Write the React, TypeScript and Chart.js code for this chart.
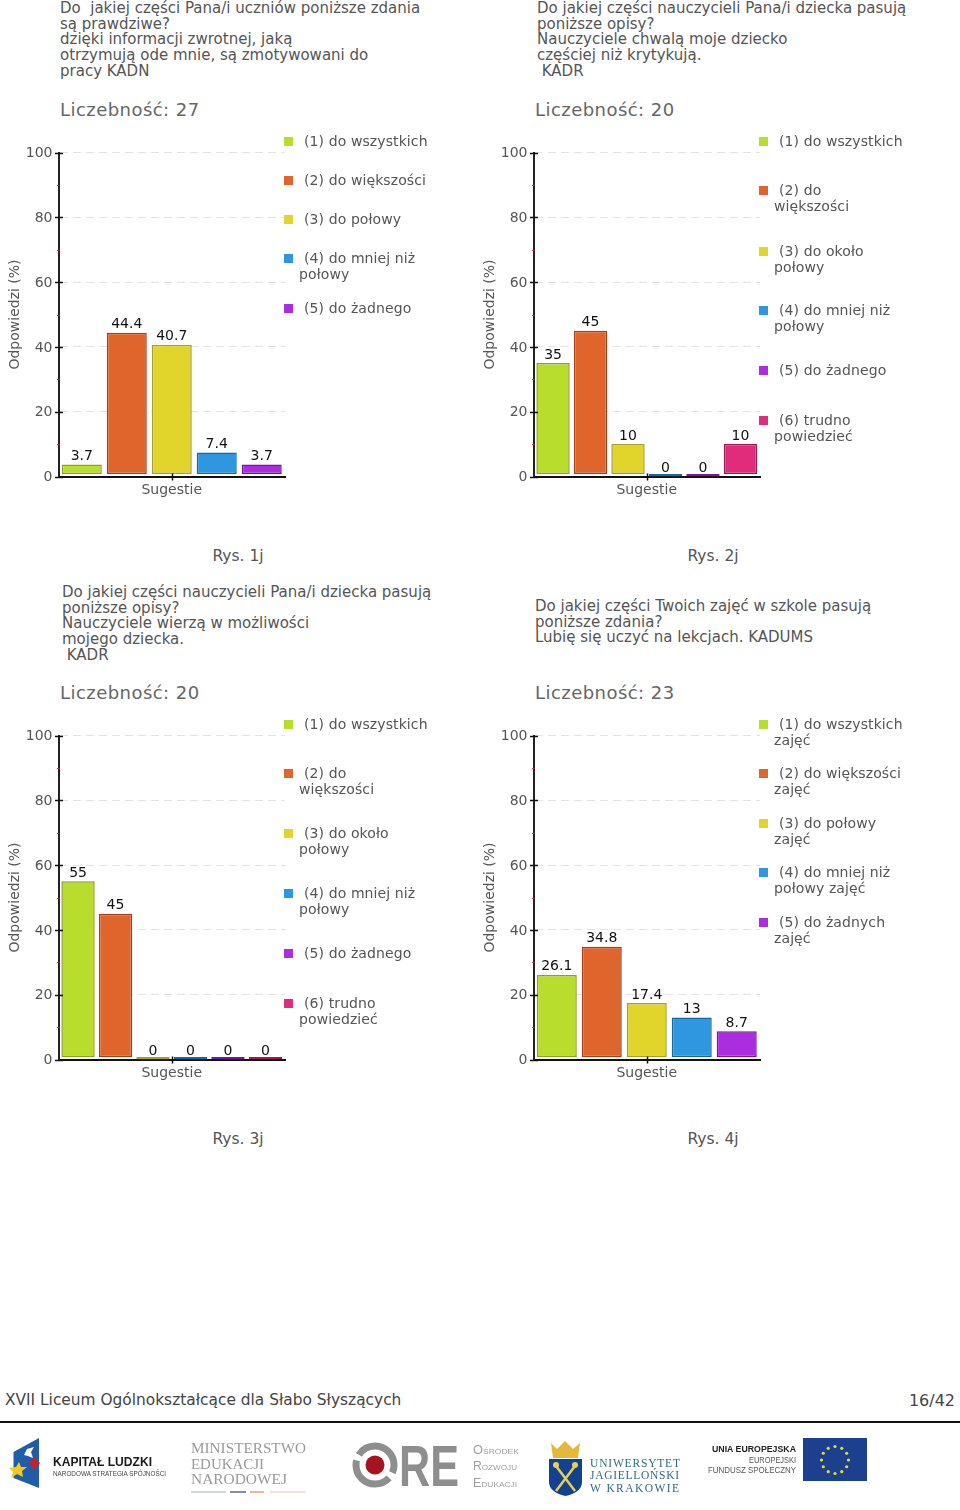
import React, { useEffect, useRef } from "react";
import { Chart, registerables } from "chart.js";

Chart.register(...registerables);

const FONT = '"DejaVu Sans", sans-serif';

const category = ["Sugestie"];
const yAxisTitle = "Odpowiedzi (%)";
const values1 = [3.7, 44.4, 40.7, 7.4, 3.7];
const values2 = [35, 45, 10, 0, 0, 10];
const values3 = [55, 45, 0, 0, 0, 0];
const values4 = [26.1, 34.8, 17.4, 13, 8.7];

const titles1 = ["Do  jakiej części Pana/i uczniów poniższe zdania", "są prawdziwe?", "dzięki informacji zwrotnej, jaką", "otrzymują ode mnie, są zmotywowani do", "pracy KADN"];
const titles2 = ["Do jakiej części nauczycieli Pana/i dziecka pasują", "poniższe opisy?", "Nauczyciele chwalą moje dziecko", "częściej niż krytykują.", " KADR"];
const titles3 = ["Do jakiej części nauczycieli Pana/i dziecka pasują", "poniższe opisy?", "Nauczyciele wierzą w możliwości", "mojego dziecka.", " KADR"];
const titles4 = ["Do jakiej części Twoich zajęć w szkole pasują", "poniższe zdania?", "Lubię się uczyć na lekcjach. KADUMS"];

const counts = ["Liczebność: 27", "Liczebność: 20", "Liczebność: 20", "Liczebność: 23"];
const captions = ["Rys. 1j", "Rys. 2j", "Rys. 3j", "Rys. 4j"];

const legend1 = [["(1) do wszystkich"], ["(2) do większości"], ["(3) do połowy"], ["(4) do mniej niż", "połowy"], ["(5) do żadnego"]];
const legend2 = [["(1) do wszystkich"], ["(2) do", "większości"], ["(3) do około", "połowy"], ["(4) do mniej niż", "połowy"], ["(5) do żadnego"], ["(6) trudno", "powiedzieć"]];
const legend4 = [["(1) do wszystkich", "zajęć"], ["(2) do większości", "zajęć"], ["(3) do połowy", "zajęć"], ["(4) do mniej niż", "połowy zajęć"], ["(5) do żadnych", "zajęć"]];

const fills = ["#b9dd2c", "#e0652d", "#e1d52c", "#2f97df", "#ac2ce0", "#e02c7a"];
const edges = ["#8f9f2c", "#a5401a", "#a89e2a", "#17689f", "#74179f", "#9f1a55"];

const panels = [
  { values: values1, titles: titles1, legend: legend1, x: 0, y: 0, titleX: 60, titleY: 1, legendY: [141, 180, 219, 258, 308] },
  { values: values2, titles: titles2, legend: legend2, x: 475, y: 0, titleX: 62, titleY: 1, legendY: [141, 190, 251, 310, 370, 420] },
  { values: values3, titles: titles3, legend: legend2, x: 0, y: 583, titleX: 62, titleY: 2, legendY: [141, 190, 250, 310, 370, 420] },
  { values: values4, titles: titles4, legend: legend4, x: 475, y: 583, titleX: 60, titleY: 16, legendY: [141, 190, 240, 289, 339] },
];

const minorTicksAndLabels = {
  id: "minorTicksAndLabels",
  afterDatasetsDraw(chart: any) {
    const { ctx, scales } = chart;
    const y = scales.y;
    const x = scales.x;
    const axisX = chart.chartArea.left;
    ctx.save();
    y.ticks.forEach((t: any) => {
      const py = Math.round(y.getPixelForValue(t.value)) + 0.5;
      const major = t.value % 20 === 0;
      ctx.strokeStyle = major ? "#111" : "#c8323c";
      ctx.lineWidth = major ? 1.5 : 1;
      ctx.beginPath();
      ctx.moveTo(axisX - (major ? 3.5 : 1.5), py);
      ctx.lineTo(axisX + (major ? 4.5 : 1), py);
      ctx.stroke();
    });
    const tx = Math.round(x.getPixelForTick(0)) + 0.5;
    ctx.strokeStyle = "#111";
    ctx.lineWidth = 1.5;
    ctx.beginPath();
    ctx.moveTo(tx, chart.chartArea.bottom - 3);
    ctx.lineTo(tx, chart.chartArea.bottom + 4);
    ctx.stroke();
    ctx.fillStyle = "#111";
    ctx.font = `14px ${FONT}`;
    ctx.textAlign = "center";
    ctx.textBaseline = "alphabetic";
    chart.data.datasets.forEach((ds: any, i: number) => {
      const el = chart.getDatasetMeta(i).data[0];
      ctx.fillText(String(ds.data[0]), el.x, y.getPixelForValue(ds.data[0]) - 4.5);
    });
    ctx.restore();
  },
};

function Panel({ values }: { values: number[] }) {
  const ref = useRef<HTMLCanvasElement>(null);
  useEffect(() => {
    const chart = new Chart(ref.current!, {
      type: "bar",
      data: {
        labels: category,
        datasets: values.map((v, i) => ({
          label: String(i + 1),
          data: [v],
          base: 0.8,
          backgroundColor: fills[i],
          borderColor: edges[i],
          borderWidth: 1.5,
          borderSkipped: false,
          barPercentage: 0.89,
          categoryPercentage: 0.993,
        })),
      },
      plugins: [minorTicksAndLabels],
      options: {
        animation: false,
        responsive: false,
        layout: { padding: { top: 22.5, right: 5, left: 0, bottom: 0 } },
        plugins: { legend: { display: false }, tooltip: { enabled: false }, title: { display: false } },
        scales: {
          x: {
            z: 1,
            border: { color: "#111", width: 2 },
            grid: { offset: false, drawOnChartArea: false, drawTicks: false },
            ticks: { color: "#555", font: { family: FONT, size: 14 }, padding: 5 },
            afterFit: (s: any) => { s.height = 28.5; },
          },
          y: {
            min: 0,
            max: 100,
            border: { color: "#222", width: 2, dash: [8, 5] },
            grid: {
              drawTicks: false,
              color: (c: any) => (c.tick && c.tick.value % 20 === 0 && c.tick.value > 0 ? "#e4e4e4" : "rgba(0,0,0,0)"),
            },
            title: { display: true, text: yAxisTitle, color: "#555", font: { family: FONT, size: 14 }, padding: { top: 7, bottom: 0 } },
            ticks: {
              stepSize: 10,
              autoSkip: false,
              color: "#555",
              font: { family: FONT, size: 14 },
              padding: 6,
              labelOffset: 1,
              callback: (v: any) => (Number(v) % 20 === 0 ? String(v) : ""),
            },
            afterFit: (s: any) => { s.width = 58.5; },
          } as any,
        },
      },
    });
    return () => chart.destroy();
  }, [values]);
  return <canvas ref={ref} width={290} height={375} style={{ position: "absolute", left: 0, top: 130, width: 290, height: 375 }} />;
}

const txt: React.CSSProperties = { position: "absolute", fontFamily: FONT, whiteSpace: "pre", color: "#555" };

function EuStars() {
  const angles = [0, 30, 60, 90, 120, 150, 180, 210, 240, 270, 300, 330];
  return (
    <>
      {angles.map((a) => (
        <circle key={a} cx={835 + 13.5 * Math.cos((a * Math.PI) / 180)} cy={1460 + 13.5 * Math.sin((a * Math.PI) / 180)} r={1.6} fill="#e6dc3a" />
      ))}
    </>
  );
}

function Logos() {
  const sans = '"Liberation Sans", sans-serif';
  const serif = '"Liberation Serif", serif';
  return (
    <svg width={960} height={1510} viewBox="0 0 960 1510" style={{ position: "absolute", left: 0, top: 0, filter: "blur(0.35px)", pointerEvents: "none" }}>
      <polygon points="13.5,1452 39,1438 39,1488 13.5,1478" fill="#1f5da8" />
      <polygon points="24,1455 27,1449 34,1447 31,1452 33,1458 28,1456" fill="#fff" />
      <polygon points="34,1457 40,1463 34,1470 29,1463" fill="#c32033" />
      <polygon points="19,1462 21,1467 27,1467 22,1471 23,1477 17,1474 11,1478 13,1472 9,1468 16,1467" fill="#f3c91f" />
      <text x={53} y={1466} fontFamily={sans} fontWeight="bold" fontSize={13.5} textLength={99} lengthAdjust="spacingAndGlyphs" fill="#1a1a1a">KAPITAŁ LUDZKI</text>
      <text x={53} y={1476} fontFamily={sans} fontSize={7} textLength={113} lengthAdjust="spacingAndGlyphs" fill="#444">NARODOWA STRATEGIA SPÓJNOŚCI</text>

      <g fontFamily={serif} fontSize={15} fill="#9a9a9a">
        <text x={191} y={1453} textLength={115} lengthAdjust="spacingAndGlyphs">MINISTERSTWO</text>
        <text x={191} y={1469} textLength={73} lengthAdjust="spacingAndGlyphs">EDUKACJI</text>
        <text x={191} y={1484} textLength={96} lengthAdjust="spacingAndGlyphs">NARODOWEJ</text>
      </g>
      <line x1={191} x2={226} y1={1492} y2={1492} stroke="#a9b2bf" />
      <line x1={230} x2={246} y1={1492} y2={1492} stroke="#5b6a80" strokeWidth={1.5} />
      <line x1={250} x2={264} y1={1492} y2={1492} stroke="#e3a070" strokeWidth={1.5} />
      <line x1={270} x2={306} y1={1492} y2={1492} stroke="#eec7ab" />

      <circle cx={375} cy={1465} r={19} fill="none" stroke="#8e8e8e" strokeWidth={7} strokeDasharray="50 6 57 6" strokeDashoffset={-14} />
      <circle cx={375} cy={1465} r={9.5} fill="#a5141f" />
      <text x={399} y={1486} fontFamily={sans} fontWeight="bold" fontSize={58} textLength={60} lengthAdjust="spacingAndGlyphs" fill="#8e8e8e">RE</text>
      <g fontFamily={sans} fontSize={12} fill="#a0a0a0" style={{ fontVariant: "small-caps" }}>
        <text x={473} y={1454} textLength={46} lengthAdjust="spacingAndGlyphs">Ośrodek</text>
        <text x={473} y={1470} textLength={44} lengthAdjust="spacingAndGlyphs">Rozwoju</text>
        <text x={473} y={1487} textLength={44} lengthAdjust="spacingAndGlyphs">Edukacji</text>
      </g>

      <polygon points="551,1443 557,1449 565,1441 573,1449 580,1443 578,1458 553,1458" fill="#e3b93c" />
      <path d="M549,1459 H582 V1482 Q582,1492 565.5,1496 Q549,1492 549,1482 Z" fill="#12418f" />
      <line x1={556} y1={1466} x2={575} y2={1491} stroke="#e8cf56" strokeWidth={2.5} />
      <line x1={575} y1={1466} x2={556} y2={1491} stroke="#e8cf56" strokeWidth={2.5} />
      <circle cx={556} cy={1465} r={3} fill="#e8cf56" />
      <circle cx={575} cy={1465} r={3} fill="#e8cf56" />
      <g fontFamily={serif} fontSize={11.5} fill="#2f6a86">
        <text x={590} y={1467} textLength={90} lengthAdjust="spacing">UNIWERSYTET</text>
        <text x={590} y={1479} textLength={89} lengthAdjust="spacing">JAGIELLOŃSKI</text>
        <text x={590} y={1492} textLength={89} lengthAdjust="spacing">W KRAKOWIE</text>
      </g>

      <text x={712} y={1452} fontFamily={sans} fontWeight="bold" fontSize={9.5} textLength={84} lengthAdjust="spacingAndGlyphs" fill="#222">UNIA EUROPEJSKA</text>
      <text x={749} y={1463} fontFamily={sans} fontSize={8.5} textLength={47} lengthAdjust="spacingAndGlyphs" fill="#555">EUROPEJSKI</text>
      <text x={708} y={1473} fontFamily={sans} fontSize={8.5} textLength={88} lengthAdjust="spacingAndGlyphs" fill="#555">FUNDUSZ SPOŁECZNY</text>
      <rect x={803} y={1438} width={64} height={43} fill="#1d3f8f" />
      <EuStars />
    </svg>
  );
}

export default function App() {
  return (
    <div style={{ position: "absolute", left: 0, top: 0, width: 960, height: 1510, overflow: "hidden", background: "#fff" }}>
      {panels.map((p, i) => (
        <div key={i} style={{ position: "absolute", left: p.x, top: p.y, width: 480, height: 580 }}>
          {p.titles.map((line, j) => (
            <div key={j} style={{ ...txt, left: p.titleX, top: p.titleY + j * 15.7, fontSize: 15, lineHeight: "15.7px" }}>{line}</div>
          ))}
          <div style={{ ...txt, left: 60, top: 99, fontSize: 18, lineHeight: "22px", letterSpacing: 0.45, color: "#666" }}>{counts[i]}</div>
          <Panel values={p.values} />
          {p.legend.map((lines, j) => (
            <React.Fragment key={j}>
              <div style={{ position: "absolute", left: 284, top: p.legendY[j] - 4, width: 9, height: 9, background: fills[j] }} />
              {lines.map((line, k) => (
                <div key={k} style={{ ...txt, left: k === 0 ? 304 : 299, top: p.legendY[j] + k * 15.5 - 8, fontSize: 14, lineHeight: "16px", letterSpacing: 0.1 }}>{line}</div>
              ))}
            </React.Fragment>
          ))}
          <div style={{ ...txt, left: 138, width: 200, textAlign: "center", top: 548, fontSize: 15.5, lineHeight: "16px" }}>{captions[i]}</div>
        </div>
      ))}
      <div style={{ ...txt, left: 5, top: 1391, fontSize: 15.4, lineHeight: "19px", color: "#444" }}>XVII Liceum Ogólnokształcące dla Słabo Słyszących</div>
      <div style={{ ...txt, right: 5, top: 1391, fontSize: 16, lineHeight: "19px", color: "#444" }}>16/42</div>
      <div style={{ position: "absolute", left: 0, top: 1421, width: 960, height: 2, background: "#111" }} />
      <Logos />
    </div>
  );
}
